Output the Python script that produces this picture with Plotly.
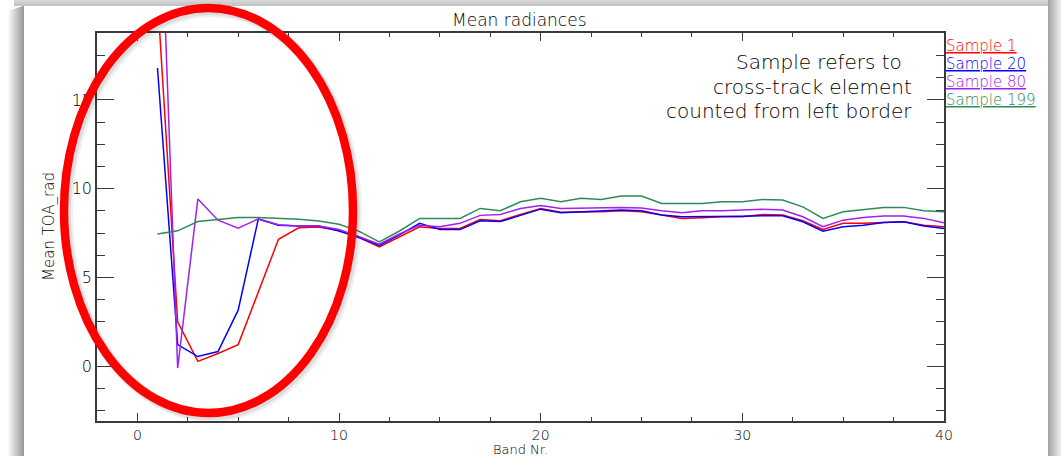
import plotly.graph_objects as go

# ---------------- data ----------------
bands = list(range(1, 41))
sample_1 = [20.8, 2.5, 0.28, 0.72, 1.22, 4.2, 7.15, 7.8, 7.85, 7.65,
            7.25, 6.73, 7.3, 7.86, 7.76, 7.76, 8.27, 8.2, 8.55, 8.89,
            8.67, 8.67, 8.7, 8.76, 8.7, 8.52, 8.33, 8.37, 8.42, 8.42,
            8.55, 8.52, 8.2, 7.71, 8.05, 8.05, 8.1, 8.14, 7.95, 7.86]
sample_20 = [16.8, 1.22, 0.55, 0.83, 3.16, 8.3, 7.95, 7.9, 7.9, 7.62,
             7.25, 6.81, 7.4, 8.05, 7.7, 7.7, 8.2, 8.15, 8.5, 8.85,
             8.65, 8.7, 8.76, 8.8, 8.76, 8.52, 8.42, 8.42, 8.45, 8.45,
             8.48, 8.48, 8.14, 7.61, 7.86, 7.95, 8.1, 8.14, 7.9, 7.76]
sample_80 = [31.4, -0.1, 9.42, 8.23, 7.78, 8.3, 7.97, 7.9, 7.9, 7.7,
             7.3, 6.88, 7.45, 7.95, 7.86, 8.05, 8.5, 8.55, 8.89, 9.05,
             8.89, 8.92, 8.94, 8.94, 8.92, 8.76, 8.65, 8.76, 8.76, 8.8,
             8.84, 8.8, 8.42, 7.86, 8.23, 8.38, 8.46, 8.46, 8.33, 8.08]
sample_199 = [7.45, 7.63, 8.15, 8.25, 8.38, 8.38, 8.33, 8.28, 8.18, 8.0,
              7.6, 7.01, 7.62, 8.33, 8.33, 8.33, 8.89, 8.76, 9.27, 9.46,
              9.27, 9.46, 9.4, 9.59, 9.59, 9.17, 9.17, 9.17, 9.27, 9.27,
              9.4, 9.36, 8.98, 8.33, 8.7, 8.84, 8.95, 8.95, 8.76, 8.7]

series_names = ["Sample 1", "Sample 20", "Sample 80", "Sample 199"]
series_values = [sample_1, sample_20, sample_80, sample_199]
series_colors = ["#ff0000", "#0000ff", "#a020f0", "#2e8b57"]

title_text = "Mean radiances"
x_title = "Band Nr."
y_title = "Mean TOA_rad"
note_lines = ["Sample refers to", "cross-track element", "counted from left border"]

# ---------------- layout geometry ----------------
W, H = 1061, 456
ML, MR, MT, MB = 97, 117, 33, 35
PW, PH = W - ML - MR, H - MT - MB


def fx(px):
    return (px - ML) / PW


def fy(py):
    return (H - MB - py) / PH


FONT = "DejaVu Sans"
AXC = "#3a3a3a"
TXT = "#000000"

fig = go.Figure()
for name, vals, col in zip(series_names, series_values, series_colors):
    fig.add_trace(go.Scatter(x=bands, y=vals, mode="lines", name=name,
                             line=dict(color=col, width=1.5), showlegend=False))

axis_common = dict(showgrid=False, zeroline=False, showline=True, linecolor=AXC,
                   linewidth=1.5, mirror="allticks", ticks="inside", tickcolor=AXC,
                   tickwidth=1.3)

fig.update_xaxes(range=[-2, 40], tickmode="linear", tick0=0, dtick=10, ticklen=8,
                 tickfont=dict(family=FONT, size=14, color=TXT, weight=200),
                 minor=dict(ticks="inside", dtick=2.5, tick0=0, ticklen=4,
                            tickcolor=AXC, tickwidth=1.2),
                 **axis_common)
fig.update_yaxes(range=[-3.08, 18.77], tickmode="linear", tick0=0, dtick=5, ticklen=17,
                 tickfont=dict(family=FONT, size=16, color=TXT, weight=200),
                 minor=dict(ticks="inside", dtick=1.25, tick0=0, ticklen=8,
                            tickcolor=AXC, tickwidth=1.2),
                 **axis_common)

shapes = []
# drop-shadow frame (style only)
for i in range(16):
    g = int(250 - i * 6.5)
    shapes.append(dict(type="rect", xref="paper", yref="paper", x0=fx(8 + i), x1=fx(9 + i),
                       y0=fy(6 + (15 - i) * 0.3), y1=fy(H + 2), line=dict(width=0),
                       fillcolor=f"rgb({g},{g},{g})", layer="below"))
for i in range(6):
    g = int(215 - i * 4)
    shapes.append(dict(type="rect", xref="paper", yref="paper", x0=fx(14), x1=fx(1049),
                       y0=fy(i), y1=fy(i + 1), line=dict(width=0),
                       fillcolor=f"rgb({g},{g},{g})", layer="below"))
for i in range(13):
    g = int(165 + i * 6)
    shapes.append(dict(type="rect", xref="paper", yref="paper", x0=fx(1048 + i), x1=fx(1049 + i),
                       y0=fy(0), y1=fy(H + 2), line=dict(width=0),
                       fillcolor=f"rgb({g},{g},{g})", layer="below"))
shapes.append(dict(type="rect", xref="paper", yref="paper", x0=fx(24), x1=fx(1048),
                   y0=fy(6), y1=fy(H + 2), line=dict(width=0), fillcolor="white", layer="below"))

# red highlight ellipse with soft shadow
cx, cy, rx, ry = 208.5, 210.5, 144.5, 202.5
for off, wd, op in [(3, 12, 0.06), (2, 10, 0.08)]:
    shapes.append(dict(type="circle", xref="paper", yref="paper",
                       x0=fx(cx - rx + off), x1=fx(cx + rx + off),
                       y0=fy(cy + ry + off), y1=fy(cy - ry + off),
                       line=dict(color=f"rgba(0,0,0,{op})", width=wd), layer="above"))
shapes.append(dict(type="circle", xref="paper", yref="paper",
                   x0=fx(cx - rx), x1=fx(cx + rx), y0=fy(cy + ry), y1=fy(cy - ry),
                   line=dict(color="#ff0000", width=8.5), layer="above"))

annotations = []
annotations.append(dict(text=title_text, xref="paper", yref="paper", x=fx(519), y=fy(20),
                        xanchor="center", yanchor="middle", showarrow=False,
                        font=dict(family=FONT, size=17, color=TXT, weight=200)))
annotations.append(dict(text=x_title, xref="paper", yref="paper", x=fx(520), y=fy(449.5),
                        xanchor="center", yanchor="middle", showarrow=False,
                        font=dict(family=FONT, size=13, color=TXT, weight=200)))
annotations.append(dict(text=y_title, xref="paper", yref="paper", x=fx(49), y=fy(227),
                        xanchor="center", yanchor="middle", showarrow=False, textangle=-90,
                        font=dict(family=FONT, size=15, color=TXT, weight=200)))
for line, py, pxr in zip(note_lines, [62, 87, 111], [904, 914, 914]):
    annotations.append(dict(text=line, xref="paper", yref="paper", x=fx(pxr), y=fy(py),
                            xanchor="right", yanchor="middle", showarrow=False,
                            font=dict(family=FONT, size=20, color=TXT, weight=200)))
for name, col, py in zip(series_names, series_colors, [46, 64, 82, 100]):
    annotations.append(dict(text=f"<u>{name}</u>", xref="paper", yref="paper", x=fx(944),
                            y=fy(py), xanchor="left", yanchor="middle", showarrow=False,
                            font=dict(family=FONT, size=15, color=col, weight=200)))

fig.update_layout(width=W, height=H, margin=dict(l=ML, r=MR, t=MT, b=MB, pad=0),
                  paper_bgcolor="white", plot_bgcolor="white",
                  shapes=shapes, annotations=annotations, showlegend=False)

fig.write_html("out.html", config={"displayModeBar": False},
               post_script="document.body.style.margin='0';document.body.style.overflow='hidden';")
